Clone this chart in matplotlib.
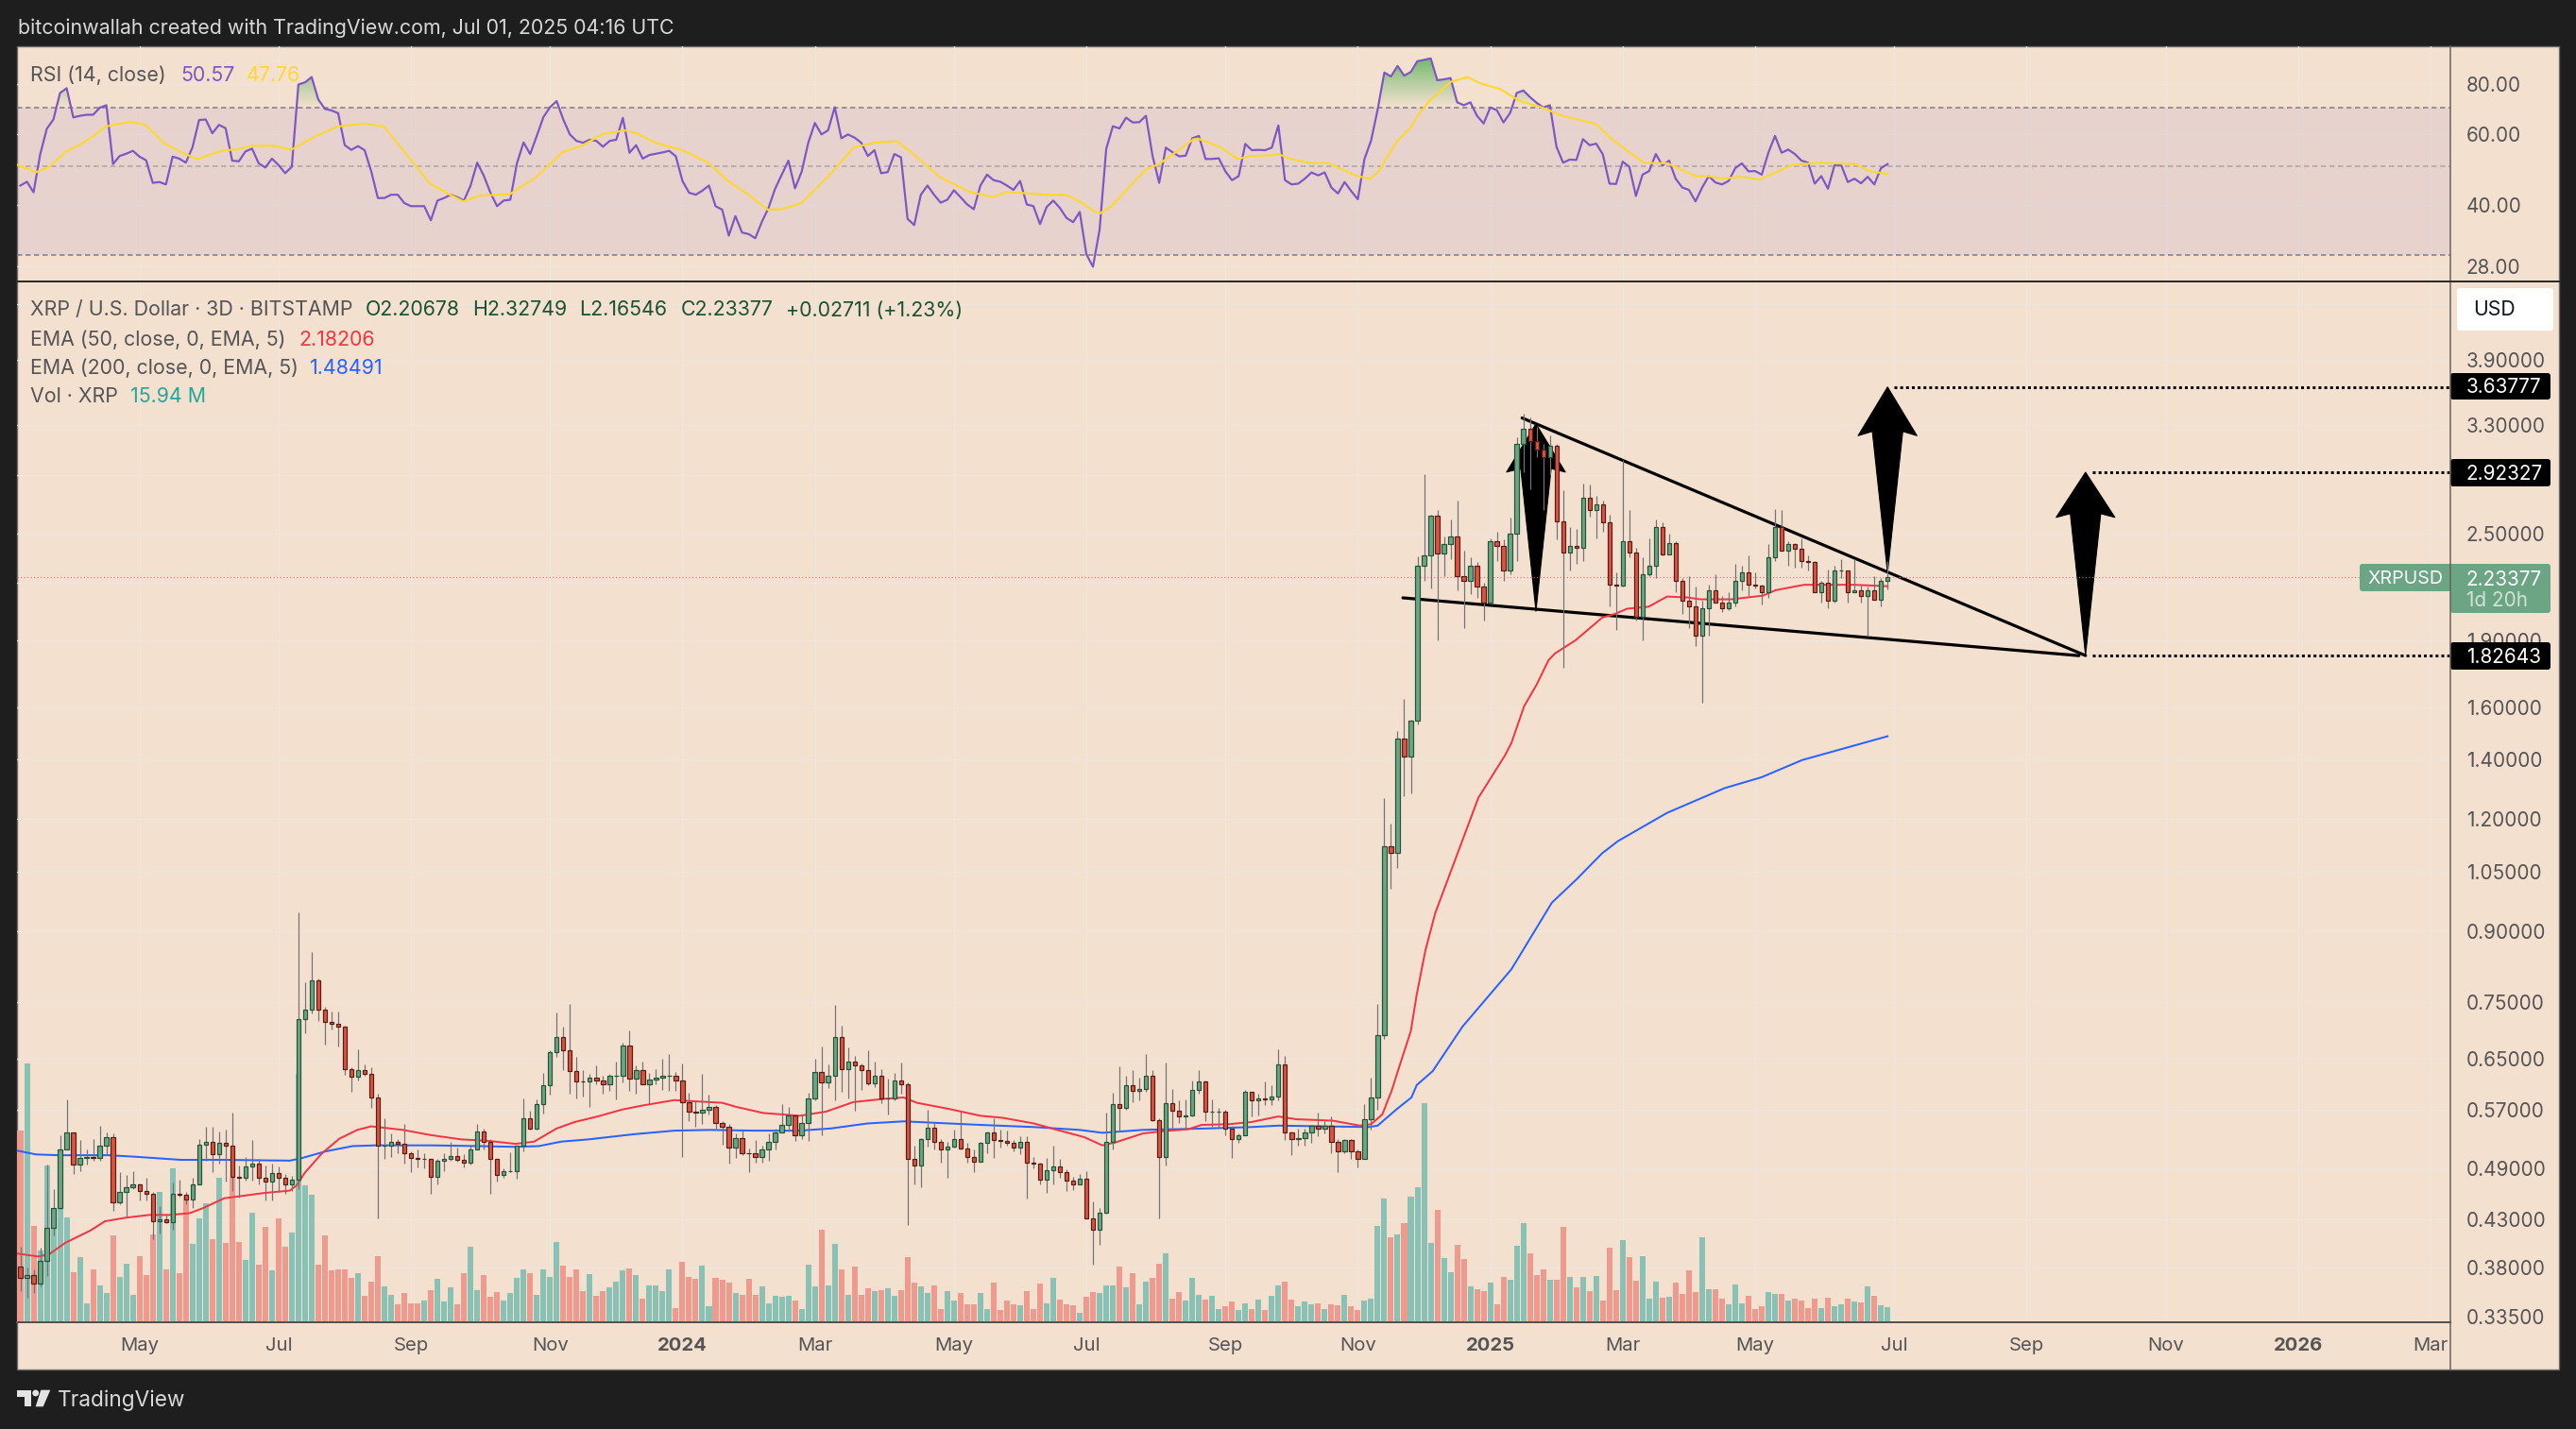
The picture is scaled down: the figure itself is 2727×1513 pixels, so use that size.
"""XRP/USD 3D chart, TradingView style: RSI pane, candles, EMAs, volume, falling wedge."""

import matplotlib

matplotlib.use("Agg")
import matplotlib.pyplot as plt
import numpy as np
from matplotlib.collections import LineCollection
from matplotlib.colors import LinearSegmentedColormap
from matplotlib.patches import FancyBboxPatch, Polygon, Circle, Rectangle
from matplotlib.path import Path
from matplotlib.ticker import NullFormatter, NullLocator

W, H = 2727, 1513

first_open = 0.381
closes = [
    .370, .373, .365, .387, .421, .443, .514, .538, .495, .503, .505, .504, .520, .531, .449, .461, .467, .470, .463, .459,
    .428, .430, .427, .459, .458, .453, .471, .521, .525, .508, .524, .520, .480, .479, .493, .496, .479, .474, .484, .478,
    .470, .476, .718, .736, .793, .736, .713, .710, .705, .633, .620, .631, .625, .588, .520, .520, .525, .522, .510, .504,
    .502, .502, .480, .500, .502, .506, .501, .497, .514, .539, .525, .502, .482, .487, .487, .520, .558, .543, .578, .606,
    .661, .687, .663, .629, .613, .612, .619, .614, .608, .621, .621, .672, .617, .631, .608, .616, .619, .622, .622, .614,
    .581, .567, .566, .570, .574, .551, .545, .517, .530, .510, .509, .505, .514, .525, .538, .548, .562, .534, .551, .587,
    .627, .611, .621, .687, .632, .645, .638, .631, .609, .621, .586, .587, .614, .608, .502, .494, .529, .544, .525, .515,
    .518, .529, .516, .505, .499, .523, .537, .527, .526, .523, .517, .525, .497, .496, .476, .488, .493, .486, .475, .470,
    .477, .431, .419, .438, .525, .578, .572, .607, .598, .601, .622, .555, .505, .580, .568, .560, .562, .600, .612, .567,
    .567, .567, .543, .528, .534, .596, .584, .586, .585, .590, .640, .538, .528, .530, .538, .547, .543, .547, .525, .512,
    .527, .512, .502, .556, .588, .690, 1.119, 1.102, 1.476, 1.411, 1.546, 2.298, 2.36, 2.615, 2.374, 2.43, 2.48, 2.24, 2.21, 2.30,
    2.18, 2.09, 2.45, 2.42, 2.27, 2.50, 3.14, 3.27, 3.17, 3.10, 3.04, 3.13, 2.58, 2.38, 2.42, 2.41, 2.74, 2.65, 2.69, 2.57,
    2.19, 2.185, 2.45, 2.38, 2.02, 2.25, 2.30, 2.54, 2.37, 2.44, 2.21, 2.10, 2.07, 1.92, 2.06, 2.16, 2.09, 2.06, 2.09, 2.21,
    2.26, 2.19, 2.185, 2.15, 2.35, 2.54, 2.39, 2.43, 2.40, 2.33, 2.32, 2.15, 2.20, 2.10, 2.27, 2.27, 2.15, 2.16, 2.13, 2.16,
    2.11, 2.21, 2.23377,
]
highs = [
    .401, .380, .378, .400, .495, .465, .534, .585, .538, .527, .515, .528, .547, .538, .536, .485, .482, .487, .472, .479,
    .461, .445, .435, .473, .476, .461, .479, .529, .545, .545, .539, .541, .565, .494, .505, .527, .502, .494, .496, .493,
    .483, .481, .946, .790, .853, .798, .742, .733, .733, .707, .635, .666, .640, .635, .593, .558, .536, .528, .549, .512,
    .514, .509, .502, .502, .509, .525, .517, .508, .520, .549, .543, .528, .502, .490, .511, .520, .586, .568, .585, .626,
    .664, .732, .705, .748, .652, .630, .625, .638, .622, .625, .644, .676, .699, .638, .644, .626, .632, .649, .658, .628,
    .641, .595, .583, .625, .592, .576, .554, .549, .536, .540, .516, .527, .520, .536, .543, .578, .574, .563, .563, .595,
    .650, .670, .640, .745, .707, .668, .654, .641, .663, .645, .632, .617, .626, .643, .611, .519, .530, .570, .551, .528,
    .525, .541, .567, .523, .514, .525, .539, .558, .542, .540, .527, .532, .532, .505, .497, .504, .520, .502, .489, .480,
    .483, .487, .450, .443, .566, .595, .637, .622, .631, .619, .658, .630, .558, .643, .601, .583, .585, .614, .630, .614,
    .585, .572, .570, .547, .536, .599, .596, .594, .612, .606, .666, .654, .539, .543, .543, .548, .566, .554, .560, .528,
    .529, .528, .515, .578, .618, .748, 1.267, 1.187, 1.505, 1.635, 1.55, 2.357, 2.91, 2.62, 2.65, 2.48, 2.59, 2.72, 2.39, 2.35,
    2.32, 2.20, 2.47, 2.51, 2.46, 2.60, 3.20, 3.40, 3.36, 3.28, 3.14, 3.21, 3.14, 2.79, 2.54, 2.53, 2.84, 2.83, 2.75, 2.72,
    2.62, 2.26, 3.02, 2.65, 2.41, 2.35, 2.47, 2.59, 2.57, 2.50, 2.45, 2.23, 2.24, 2.18, 2.10, 2.19, 2.25, 2.13, 2.15, 2.31,
    2.30, 2.36, 2.26, 2.19, 2.43, 2.66, 2.65, 2.45, 2.44, 2.47, 2.36, 2.33, 2.21, 2.28, 2.30, 2.34, 2.27, 2.34, 2.19, 2.18,
    2.24, 2.23, 2.32749,
]
lows = [
    .358, .352, .356, .362, .372, .413, .442, .514, .483, .487, .495, .500, .500, .507, .440, .447, .433, .465, .451, .451,
    .409, .415, .426, .419, .456, .447, .443, .471, .500, .486, .496, .474, .462, .455, .475, .475, .471, .451, .451, .461,
    .459, .463, .465, .693, .730, .715, .674, .700, .670, .623, .596, .614, .622, .572, .431, .502, .505, .509, .496, .486,
    .491, .490, .459, .471, .487, .500, .499, .491, .495, .514, .515, .459, .474, .478, .486, .477, .512, .541, .541, .564,
    .592, .652, .630, .594, .586, .590, .574, .608, .594, .598, .585, .611, .598, .594, .608, .578, .608, .600, .598, .598,
    .505, .553, .546, .549, .563, .543, .521, .496, .503, .507, .485, .497, .498, .500, .514, .538, .539, .526, .528, .526,
    .584, .533, .602, .583, .596, .586, .568, .599, .606, .604, .579, .563, .584, .594, .424, .471, .467, .518, .514, .498,
    .478, .517, .514, .497, .486, .499, .509, .503, .517, .520, .512, .508, .454, .490, .470, .460, .470, .479, .463, .464,
    .470, .431, .383, .403, .436, .514, .539, .570, .581, .583, .596, .554, .431, .494, .543, .551, .544, .560, .593, .553,
    .546, .543, .534, .503, .523, .533, .560, .562, .577, .576, .583, .527, .507, .520, .520, .524, .532, .536, .510, .486,
    .510, .502, .491, .502, .542, .570, .684, 1.005, 1.06, 1.274, 1.283, 1.529, 2.21, 2.172, 1.90, 2.24, 2.34, 2.16, 1.96, 2.14,
    2.12, 2.00, 2.09, 2.33, 2.21, 2.25, 2.33, 2.92, 2.80, 3.04, 2.65, 2.90, 2.46, 1.77, 2.27, 2.31, 2.33, 2.61, 2.47, 2.51,
    2.07, 1.95, 2.18, 2.35, 2.00, 1.90, 2.24, 2.23, 2.36, 2.37, 2.15, 2.03, 1.96, 1.87, 1.62, 1.92, 2.09, 2.04, 2.05, 2.07,
    2.16, 2.13, 2.17, 2.08, 2.12, 2.33, 2.39, 2.30, 2.29, 2.29, 2.27, 2.15, 2.09, 2.06, 2.09, 2.23, 2.09, 2.15, 2.09, 1.92,
    2.11, 2.07, 2.16546,
]
volumes = [
    203, 274, 102, 76, 166, 121, 163, 111, 53, 69, 20, 56, 39, 31, 92, 48, 62, 29, 70, 50,
    93, 138, 56, 163, 52, 134, 83, 110, 126, 88, 153, 84, 153, 85, 66, 116, 61, 101, 55, 110,
    80, 95, 263, 145, 135, 61, 92, 55, 56, 56, 47, 52, 28, 43, 70, 38, 29, 19, 31, 20,
    20, 23, 34, 46, 22, 37, 19, 52, 80, 34, 50, 27, 32, 23, 31, 47, 56, 52, 29, 56,
    48, 85, 60, 48, 56, 33, 51, 28, 33, 37, 43, 55, 57, 50, 25, 39, 39, 33, 56, 15,
    64, 48, 46, 60, 17, 47, 45, 42, 31, 29, 46, 29, 38, 20, 28, 27, 28, 23, 14, 61,
    38, 98, 39, 83, 56, 29, 59, 29, 36, 33, 34, 36, 28, 34, 69, 42, 38, 31, 39, 14,
    33, 23, 31, 19, 19, 31, 14, 42, 13, 23, 19, 18, 33, 14, 41, 20, 47, 24, 19, 18,
    10, 27, 32, 31, 39, 39, 59, 37, 52, 19, 43, 47, 62, 73, 25, 32, 23, 47, 29, 24,
    28, 14, 17, 22, 13, 20, 14, 24, 13, 28, 39, 43, 24, 17, 22, 19, 20, 14, 19, 18,
    29, 17, 13, 23, 25, 102, 131, 90, 93, 105, 133, 143, 232, 84, 119, 68, 53, 82, 67, 38,
    35, 33, 42, 19, 48, 45, 81, 105, 73, 50, 56, 45, 45, 101, 48, 37, 48, 33, 49, 23,
    79, 34, 87, 69, 44, 70, 25, 43, 26, 27, 42, 30, 55, 32, 90, 35, 35, 25, 19, 40,
    20, 28, 14, 17, 32, 30, 30, 23, 25, 23, 15, 25, 15, 26, 17, 19, 25, 22, 21, 38,
    28, 18, 15.94,
]
rsi = [
    44.7, 45.7, 43.0, 53.5, 62.0, 65.4, 76.2, 78.3, 66.2, 66.8, 67.2, 67.2, 70.0, 71.0, 50.6, 53.0, 53.7, 54.6, 52.8, 51.7,
    45.4, 45.6, 45.0, 52.8, 52.2, 51.0, 55.7, 65.2, 65.4, 60.4, 63.4, 62.2, 51.6, 51.4, 54.4, 55.3, 50.8, 49.6, 52.2, 50.3,
    48.0, 49.8, 80.0, 81.0, 83.5, 73.4, 69.5, 68.9, 67.8, 56.4, 54.9, 56.1, 54.8, 48.5, 41.6, 41.6, 42.4, 42.4, 40.4, 39.7,
    39.7, 39.7, 36.6, 41.0, 41.6, 42.4, 41.8, 41.0, 44.7, 51.0, 47.3, 42.9, 39.7, 41.0, 41.2, 50.8, 57.3, 53.6, 59.5, 66.3,
    70.2, 72.7, 65.4, 60.0, 57.8, 57.2, 58.2, 57.8, 55.9, 57.8, 58.2, 66.0, 54.0, 56.4, 52.2, 53.3, 53.7, 54.1, 54.6, 52.9,
    45.9, 42.9, 42.4, 43.4, 44.7, 39.7, 38.9, 33.5, 37.5, 34.1, 33.8, 33.0, 36.3, 39.3, 43.9, 47.6, 51.6, 44.0, 48.4, 57.2,
    64.1, 60.0, 61.5, 70.2, 58.7, 60.0, 58.9, 57.2, 53.0, 54.8, 48.0, 48.3, 53.6, 52.6, 36.9, 35.6, 42.4, 44.7, 42.4, 40.5,
    41.2, 43.5, 41.8, 40.1, 39.0, 44.7, 47.6, 46.1, 45.7, 44.7, 43.6, 45.9, 40.1, 39.7, 35.8, 39.5, 41.0, 39.3, 37.1, 36.2,
    38.4, 30.1, 28.0, 34.7, 55.2, 62.9, 62.1, 66.1, 64.3, 64.4, 66.8, 53.0, 45.4, 55.6, 54.2, 52.9, 53.1, 58.7, 59.5, 52.1,
    52.1, 52.3, 48.5, 46.1, 47.2, 56.8, 54.8, 54.9, 54.8, 55.6, 63.2, 46.1, 45.0, 45.2, 46.5, 48.2, 47.4, 48.2, 44.2, 42.7,
    45.6, 43.3, 41.3, 52.1, 57.9, 69.3, 85.7, 83.8, 89.0, 84.2, 86.0, 91.5, 92.2, 93.0, 82.0, 82.4, 83.0, 72.2, 71.0, 72.2,
    66.8, 63.9, 70.1, 69.0, 64.3, 67.9, 76.2, 77.3, 74.4, 72.0, 70.1, 71.0, 55.9, 51.0, 51.9, 51.8, 58.4, 56.4, 56.9, 53.5,
    45.2, 45.1, 51.3, 49.8, 42.1, 47.6, 48.6, 53.6, 50.2, 51.6, 46.5, 44.2, 43.6, 40.8, 44.2, 47.2, 45.5, 45.0, 45.9, 49.4,
    50.8, 48.5, 48.6, 47.6, 54.0, 59.5, 54.0, 55.0, 53.6, 51.6, 51.0, 45.2, 47.2, 43.9, 50.3, 50.3, 45.6, 46.5, 45.3, 47.0,
    45.0, 49.4, 50.57,
]
rsi_ma_idx = [
    -0.4, 2.4, 4.4, 6.9, 8.9, 10.9, 12.9, 15.4, 16.9, 18.9, 21.9, 24.4, 26.7, 28.9, 30.9, 32.4, 34.9, 38.4, 40.9, 44.4,
    47.9, 51.9, 54.9, 57.9, 61.9, 64.9, 66.9, 69.4, 73.9, 77.9, 81.9, 84.9, 87.9, 91.4, 93.4, 95.9, 99.9, 103.9, 106.9, 109.9,
    112.9, 114.9, 117.9, 121.9, 125.9, 128.9, 132.4, 134.9, 138.9, 143.4, 146.9, 148.9, 154.8, 157.9, 160, 162, 163.1, 164.8, 168.1, 170,
    171.9, 174.8, 177.2, 178.1, 181.4, 183.8, 185.9, 189, 190, 191.9, 194.8, 197.6, 199, 201.9, 203.9, 205.2, 206.2, 208, 210, 210.9,
    212.8, 216, 218.6, 220.5, 223.4, 226.5, 229.7, 232.9, 238, 240.5, 243.1, 245.3, 248.8, 253, 254.9, 257.1, 259.7, 262.8, 264.8, 267.6,
    271.8, 274, 277.2, 279.1, 282,
]
rsi_ma = [
    50.3, 48.3, 49.8, 54.4, 56.4, 59.2, 62.8, 64.0, 64.5, 63.4, 56.8, 54.1, 52.0, 53.6, 54.9, 54.9, 56.2, 56.2, 54.9, 59.2,
    62.8, 63.9, 62.8, 54.6, 45.2, 42.4, 40.8, 42.2, 42.5, 46.9, 54.2, 56.3, 60.1, 61.4, 60.1, 57.2, 54.9, 51.0, 45.9, 42.5,
    38.9, 39.0, 40.3, 46.9, 55.7, 57.2, 57.7, 53.6, 46.9, 43.1, 41.8, 43.1, 42.4, 42.4, 40.8, 38.7, 38.1, 39.7, 45.5, 49.1,
    50.5, 54.6, 58.4, 58.4, 55.6, 52.1, 53.0, 53.2, 53.6, 52.1, 50.9, 50.9, 49.6, 47.2, 46.5, 48.6, 52.1, 57.9, 62.5, 66.4,
    72.7, 81.2, 83.5, 80.5, 78.0, 72.7, 70.2, 66.8, 63.7, 58.2, 54.0, 50.9, 50.8, 47.2, 47.2, 46.5, 47.0, 46.3, 48.0, 50.3,
    51.0, 50.8, 50.6, 48.7, 47.76,
]
ema50_idx = [
    -0.5, 2.7, 4.3, 6.8, 10.6, 12.8, 16, 19.5, 22.6, 25.6, 27.7, 30.8, 33.8, 36.6, 40.7, 41.7, 43, 45.5, 48.2, 50.9,
    53, 57.8, 61.9, 66.6, 70.7, 74.8, 77.6, 81, 83.7, 87.2, 90.9, 94, 98.8, 104, 106, 108.1, 112.2, 117.7, 121.7, 125.8,
    130.6, 133.4, 135.4, 140.2, 145, 148.4, 153.1, 156.6, 160.7, 163.4, 165.4, 169.5, 172.3, 176.4, 178.4, 182.5, 185.9, 190, 192.7, 198.2,
    202.3, 204, 205.7, 207.1, 208.4, 210, 210.9, 212.2, 213.7, 220.2, 224.2, 225.2, 227.1, 229, 230.8, 231.8, 234.9, 238.9, 240.9, 242.7,
    245.9, 248.7, 251.8, 253.7, 258.4, 263.2, 265.1, 269.4, 273.7, 277, 282,
]
ema50 = [
    .394, .391, .393, .405, .418, .428, .432, .435, .435, .437, .443, .454, .457, .460, .463, .469, .485, .509, .529, .541,
    .546, .541, .534, .528, .526, .522, .525, .543, .552, .560, .570, .576, .584, .581, .580, .574, .565, .561, .567, .581,
    .586, .588, .580, .571, .561, .558, .550, .541, .531, .520, .524, .536, .539, .542, .548, .549, .552, .560, .556, .554,
    .547, .549, .563, .598, .641, .697, .766, .857, .944, 1.268, 1.413, 1.46, 1.603, 1.695, 1.805, 1.837, 1.90, 2.013, 2.033, 2.06,
    2.07, 2.125, 2.12, 2.11, 2.11, 2.13, 2.16, 2.19, 2.19, 2.19, 2.18206,
]
ema200_idx = [
    -0.5, 2.4, 5.8, 13.3, 17.4, 24.3, 31.1, 40.7, 42.4, 46.1, 50.2, 53.7, 61.9, 69.4, 74.8, 78.3, 81.7, 85.8, 92.6, 98.8,
    104.1, 110.8, 117.7, 122.4, 127.9, 133.4, 145, 153.1, 160, 163.4, 169.5, 179.1, 185.9, 190, 203.7, 205, 207.8, 210.1, 210.9, 213.3,
    217.8, 225.2, 231.3, 235.1, 238.9, 241.3, 248.7, 257.4, 263, 269.1, 282,
]
ema200 = [
    .513, .508, .507, .507, .505, .501, .501, .500, .503, .512, .519, .520, .520, .519, .518, .519, .525, .528, .535, .540,
    .541, .540, .540, .543, .550, .553, .548, .545, .541, .537, .541, .543, .545, .547, .545, .547, .570, .588, .607, .629,
    .705, .817, .969, 1.03, 1.10, 1.135, 1.22, 1.30, 1.337, 1.397, 1.48491,
]

month_ticks = [18, 39, 59, 80, 100, 120, 141, 161, 182, 202, 222, 242, 262, 283, 303, 324, 344, 364]
month_labels = ["May", "Jul", "Sep", "Nov", "2024", "Mar", "May", "Jul", "Sep", "Nov", "2025", "Mar", "May", "Jul", "Sep", "Nov", "2026", "Mar"]
price_ticks = [3.9, 3.3, 2.5, 1.9, 1.6, 1.4, 1.2, 1.05, 0.9, 0.75, 0.65, 0.57, 0.49, 0.43, 0.38, 0.335]
price_hidden_grid = [4.5, 2.9, 2.2]
rsi_ticks = [80, 60, 40, 28]

# wedge and target drawings: (candle index, price)
wedge_upper = [(226.8, 3.36), (311.9, 1.82643)]
wedge_lower = [(208.8, 2.118), (310.9, 1.826)]
# centre index, bottom, inner shoulder, wing, tip
arrows = [
    (228.9, 2.046, 2.95, 2.924, 3.31),
    (282.0, 2.257, 3.245, 3.21, 3.63777),
    (311.9, 1.82643, 2.628, 2.603, 2.92327),
]
targets = [(283.0, 3.63777), (313.0, 2.92327), (313.0, 1.82643)]

BG = "#f3e0cf"
FRAME = "#1e1e1e"
GRID = "#efe5dc"
TEXT = "#555555"
UP, UP_EDGE = "#6ba583", "#225437"
DOWN, DOWN_EDGE = "#d75442", "#5b1a13"
WICK = "#737375"
VOL_UP, VOL_DOWN = "#89c2b4", "#ef9a8f"
FONT = "Inter"

plt.rcParams["font.family"] = [FONT, "DejaVu Sans"]

LEFT, AXIS_X, RIGHT = 18, 2594, 2709
TOP, SPLIT, BOTTOM, PANEL_BOTTOM = 49, 297.5, 1400, 1449.5


def px_axes(fig, x0, y0, x1, y1, zorder):
    ax = fig.add_axes([x0 / W, 1 - y1 / H, (x1 - x0) / W, (y1 - y0) / H], zorder=zorder)
    ax.patch.set_alpha(0)
    for s in ax.spines.values():
        s.set_visible(False)
    return ax


def pt(px):
    return px * 0.72


fig = plt.figure(figsize=(W / 100, H / 100), dpi=100, facecolor=FRAME)

back = px_axes(fig, 0, 0, W, H, -1)
back.set_xlim(0, W)
back.set_ylim(H, 0)
back.axis("off")
back.add_patch(Rectangle((LEFT, TOP), RIGHT - LEFT, PANEL_BOTTOM - TOP, fc=BG, ec="#6f6a66", lw=1))

idx = np.arange(len(closes))
closes = np.array(closes)
opens = np.r_[first_open, closes[:-1]]
highs = np.array(highs)
lows = np.array(lows)
rsi = np.array(rsi)
is_up = closes >= opens
xlim = (-0.5, 367)

# RSI pane
ax_rsi = px_axes(fig, LEFT, TOP, AXIS_X, SPLIT, 1)
ax_rsi.set_yscale("log")
ax_rsi.set_xlim(*xlim)
ax_rsi.set_ylim(25.8, 99.7)
ax_rsi.yaxis.set_minor_locator(NullLocator())
ax_rsi.yaxis.set_minor_formatter(NullFormatter())
ax_rsi.yaxis.tick_right()
ax_rsi.set_yticks(rsi_ticks, [f"{v:.2f}" for v in rsi_ticks])
ax_rsi.set_xticks(month_ticks, [])
ax_rsi.tick_params(axis="both", length=0)
ax_rsi.tick_params(axis="y", labelsize=14.9, labelcolor=TEXT, pad=pt(17))
ax_rsi.grid(True, color=GRID, lw=pt(1.4))
ax_rsi.set_axisbelow(True)
ax_rsi.axhspan(30, 70, color="#7e57c2", alpha=0.1, lw=0, zorder=0.8)
ax_rsi.axhline(70, color="#787b86", lw=pt(1.5), ls=(0, (3.6, 2.4)), zorder=1)
ax_rsi.axhline(50, color="#787b86", lw=pt(1.5), ls=(0, (3.6, 2.4)), alpha=0.55, zorder=1)
ax_rsi.axhline(30, color="#787b86", lw=pt(1.5), ls=(0, (3.6, 2.4)), zorder=1)

fade = LinearSegmentedColormap.from_list("fade", ["#4caf5000", "#4caf50d0"])
fill = ax_rsi.fill_between(idx, 70, rsi, where=rsi > 70, interpolate=True, color="none")
levels = np.linspace(70, 94, 60)
mesh = ax_rsi.pcolormesh([-1, 284], levels, levels[:-1, None], cmap=fade, zorder=1.5)
mesh.set_clip_path(Path.make_compound_path(*fill.get_paths()), ax_rsi.transData)
ax_rsi.plot(idx, rsi, color="#7e57c2", lw=pt(2.2), zorder=3, solid_joinstyle="round")
ax_rsi.plot(rsi_ma_idx, rsi_ma, color="#fdd835", lw=pt(2.2), zorder=3.2)

# price pane: grid at the back, then volume, then candles
ax_grid = px_axes(fig, LEFT, SPLIT, AXIS_X, BOTTOM, 1)
ax_vol = px_axes(fig, LEFT, SPLIT, AXIS_X, BOTTOM, 2)
ax = px_axes(fig, LEFT, SPLIT, AXIS_X, BOTTOM, 3)

for a in (ax_grid, ax):
    a.set_yscale("log")
    a.set_ylim(0.3303, 4.774)
    a.set_xlim(*xlim)
    a.yaxis.set_minor_locator(NullLocator())
    a.yaxis.set_minor_formatter(NullFormatter())

ax_grid.yaxis.tick_right()
all_ticks = price_ticks + price_hidden_grid
ax_grid.set_yticks(all_ticks, [f"{v:.5f}" for v in price_ticks] + [""] * len(price_hidden_grid))
ax_grid.set_xticks(month_ticks, month_labels)
ax_grid.tick_params(axis="both", length=0)
ax_grid.tick_params(axis="y", labelsize=14.9, labelcolor=TEXT, pad=pt(17))
ax_grid.tick_params(axis="x", labelsize=14.6, labelcolor=TEXT, pad=pt(16))
for lab in ax_grid.get_xticklabels():
    if lab.get_text().startswith("20"):
        lab.set_fontweight("bold")
ax_grid.grid(True, color=GRID, lw=pt(1.4))
ax_grid.set_axisbelow(True)

ax_vol.set_xlim(*xlim)
ax_vol.set_ylim(0, BOTTOM - SPLIT)
ax_vol.set_xticks([])
ax_vol.set_yticks([])
ax_vol.bar(idx, volumes, width=0.86, color=np.where(is_up, VOL_UP, VOL_DOWN), lw=0)

ax.set_xticks([])
ax.set_yticks([])
ax.tick_params(axis="both", length=0)

# drawings sit behind the candles
for tip_i, bottom, shoulder, wing, tip in arrows:
    ax.add_patch(Polygon(
        [(tip_i, bottom), (tip_i + 2.3, shoulder), (tip_i + 4.45, wing), (tip_i, tip),
         (tip_i - 4.45, wing), (tip_i - 2.3, shoulder)],
        closed=True, fc="black", ec="black", lw=pt(1), joinstyle="round", zorder=1.5))
ax.plot(*zip(*wedge_upper), color="black", lw=pt(3.2), solid_capstyle="round", zorder=1.6)
ax.plot(*zip(*wedge_lower), color="black", lw=pt(3.2), solid_capstyle="round", zorder=1.6)
for start, level in targets:
    ax.plot([start, xlim[1]], [level, level], color="black", lw=pt(3), ls=(0, (1, 1.05)), zorder=1.6)

ax.axhline(closes[-1], color=UP, lw=pt(1.1), ls=(0, (1, 2.2)), zorder=1.7)
ax.plot(ema200_idx, ema200, color="#2962ff", lw=pt(2), zorder=2)
ax.plot(ema50_idx, ema50, color="#f23645", lw=pt(2), zorder=2.1)

ax.add_collection(LineCollection(
    [[(i, l), (i, h)] for i, l, h in zip(idx, lows, highs)],
    colors=WICK, linewidths=pt(1.2), zorder=3))
ax.bar(idx, closes - opens, bottom=opens, width=0.62,
       color=np.where(is_up, UP, DOWN), edgecolor=np.where(is_up, UP_EDGE, DOWN_EDGE),
       lw=pt(1.2), zorder=4)

# frame, labels, legends in figure pixels
ui = px_axes(fig, 0, 0, W, H, 10)
ui.set_xlim(0, W)
ui.set_ylim(H, 0)
ui.axis("off")
ui.plot([AXIS_X, AXIS_X], [TOP, PANEL_BOTTOM], color="#66625f", lw=pt(1.5))
ui.plot([LEFT, RIGHT], [SPLIT, SPLIT], color="#2b2b2b", lw=pt(2))
ui.plot([LEFT, AXIS_X], [BOTTOM, BOTTOM], color="#55514e", lw=pt(2))


def label(x, y, s, color=TEXT, size=15.4, **kw):
    ui.text(x, y + 1.5, s, color=color, fontsize=size, va="center", ha=kw.pop("ha", "left"), **kw)


def price_box(x0, y0, x1, y1, color):
    ui.add_patch(FancyBboxPatch((x0, y0), x1 - x0, y1 - y0, boxstyle="round,pad=0,rounding_size=3",
                                fc=color, ec="none", lw=0))


label(19, 28, "bitcoinwallah created with TradingView.com, Jul 01, 2025 04:16 UTC", color="#d8d8d8", size=15.4)

label(32, 78, "RSI (14, close)")
label(191, 78, "50.57", color="#7e57c2")
label(261, 78, "47.76", color="#fdd835")
label(32, 327, "XRP / U.S. Dollar · 3D · BITSTAMP")
OHLC = "#1b5233"
label(387, 327, "O2.20678", color=OHLC)
label(500, 327, "H2.32749", color=OHLC)
label(613, 327, "L2.16546", color=OHLC)
label(721, 327, "C2.23377", color=OHLC)
label(832, 327, "+0.02711 (+1.23%)", color=OHLC)
label(32, 358, "EMA (50, close, 0, EMA, 5)")
label(316.5, 358, "2.18206", color="#f23645")
label(32, 388, "EMA (200, close, 0, EMA, 5)")
label(328, 388, "1.48491", color="#2962ff")
label(32, 419, "Vol · XRP")
label(137.5, 419, "15.94 M", color="#26a69a")

price_box(2601, 305, 2703, 350, "white")
label(2618, 327, "USD", color="#131722", size=15.2)

for y0, y1, txt in [(395, 423, "3.63777"), (486, 515, "2.92327"), (680, 709, "1.82643")]:
    price_box(AXIS_X, y0, 2700, y1, "black")
    label(2611, (y0 + y1) / 2, txt, color="white", size=14.9)

price_box(2498, 597, AXIS_X + 4, 626, UP)
price_box(AXIS_X, 597, 2700, 649, UP)
label(2506, 611, "XRPUSD", color="white", size=14.2)
label(2611, 612, "2.23377", color="white", size=14.9)
label(2611, 635, "1d 20h", color="#cfe3d6", size=14.9)

LOGO = "#e3e3e3"
ui.add_patch(Polygon([(18.3, 1471.7), (33.3, 1471.7), (33.3, 1489.3), (26, 1489.3), (26, 1479), (18.3, 1479)], fc=LOGO, lw=0))
ui.add_patch(Circle((37.7, 1475), 3.4, fc=LOGO, lw=0))
ui.add_patch(Polygon([(43.3, 1471.7), (53.3, 1471.7), (45.7, 1489.3), (37.7, 1489.3)], fc=LOGO, lw=0))
label(61, 1481.5, "TradingView", color="#d9d9d9", size=16.3)

fig.savefig("out.png", dpi=100, facecolor=FRAME)
